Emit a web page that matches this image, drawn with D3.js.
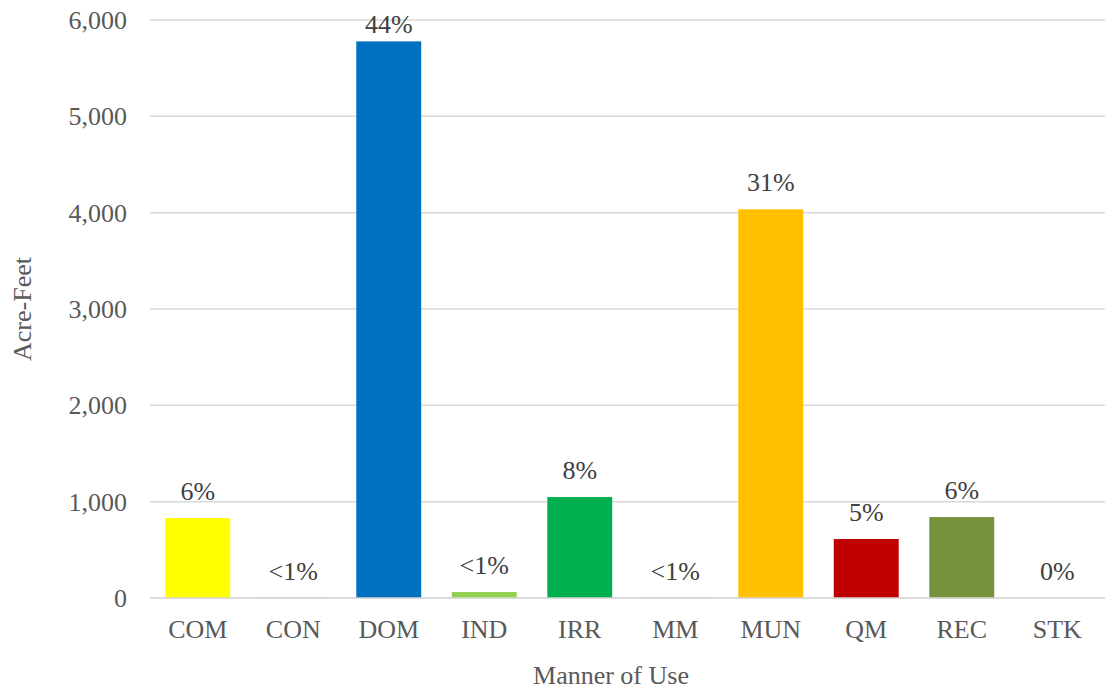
<!DOCTYPE html>
<html lang="en">
<head>
    <meta charset="UTF-8">
    <title>Manner of Use</title>
    <script src="https://d3js.org/d3.v7.min.js"></script>
    <style>
        body {
            margin: 0;
            background: #fff;
        }
        svg text {
            font-family: "Times New Roman", "Liberation Serif", Times, serif;
        }
        .grid line {
            stroke: #d9d9d9;
            stroke-width: 1.5;
        }
    </style>
</head>
<body>
    <div id="chart"></div>

    <script>
        const categories = ["COM", "CON", "DOM", "IND", "IRR", "MM", "MUN", "QM", "REC", "STK"];
        const acreFeet = [830, 5, 5778, 62, 1048, 2, 4035, 612, 840, 0];
        const pctLabels = ["6%", "<1%", "44%", "<1%", "8%", "<1%", "31%", "5%", "6%", "0%"];
        const barColors = ["#ffff00", "#a5a5a5", "#0070c0", "#92d050", "#00b050", "#a5a5a5", "#ffc000", "#c00000", "#77933c", "#a5a5a5"];
        const yTicks = [0, 1000, 2000, 3000, 4000, 5000, 6000];

        const width = 1106, height = 690;
        const margin = { top: 20, right: 1, bottom: 92, left: 150 };
        const fontSize = "26px";

        const svg = d3.select("#chart")
            .append("svg")
            .attr("width", width)
            .attr("height", height);

        const x = d3.scaleBand()
            .domain(categories)
            .range([margin.left, width - margin.right])
            .paddingInner(0.32)
            .paddingOuter(0.16);

        const y = d3.scaleLinear()
            .domain([0, 6000])
            .range([height - margin.bottom, margin.top]);

        // gridlines
        svg.append("g")
            .attr("class", "grid")
            .selectAll("line")
            .data(yTicks)
            .join("line")
            .attr("x1", margin.left)
            .attr("x2", width - margin.right)
            .attr("y1", d => y(d))
            .attr("y2", d => y(d));

        // y tick labels
        svg.append("g")
            .selectAll("text")
            .data(yTicks)
            .join("text")
            .attr("x", margin.left - 23)
            .attr("y", d => y(d))
            .attr("dy", "0.35em")
            .attr("text-anchor", "end")
            .style("font-size", fontSize)
            .style("fill", "#595959")
            .text(d => d3.format(",")(d));

        const data = categories.map((c, i) => ({ cat: c, v: acreFeet[i], label: pctLabels[i], color: barColors[i] }));

        // bars
        svg.append("g")
            .selectAll("rect")
            .data(data)
            .join("rect")
            .attr("x", d => x(d.cat))
            .attr("width", x.bandwidth())
            .attr("y", d => y(d.v))
            .attr("height", d => y(0) - y(d.v))
            .attr("fill", d => d.color);

        // zero axis line over bars
        svg.append("line")
            .attr("x1", margin.left)
            .attr("x2", width - margin.right)
            .attr("y1", y(0))
            .attr("y2", y(0))
            .attr("stroke", "#d9d9d9")
            .attr("stroke-width", 1.5);

        // data labels
        svg.append("g")
            .selectAll("text")
            .data(data)
            .join("text")
            .attr("x", d => x(d.cat) + x.bandwidth() / 2)
            .attr("y", d => Math.max(y(d.v) - 18, 33))
            .attr("text-anchor", "middle")
            .style("font-size", fontSize)
            .style("fill", "#404040")
            .text(d => d.label);

        // x tick labels
        svg.append("g")
            .selectAll("text")
            .data(categories)
            .join("text")
            .attr("x", d => x(d) + x.bandwidth() / 2)
            .attr("y", y(0) + 40)
            .attr("text-anchor", "middle")
            .style("font-size", fontSize)
            .style("fill", "#595959")
            .text(d => d);

        // axis titles
        svg.append("text")
            .attr("x", 611)
            .attr("y", 684)
            .attr("text-anchor", "middle")
            .style("font-size", fontSize)
            .style("fill", "#595959")
            .text("Manner of Use");

        svg.append("text")
            .attr("transform", `translate(31, ${y(3000)}) rotate(-90)`)
            .attr("text-anchor", "middle")
            .style("font-size", fontSize)
            .style("fill", "#595959")
            .text("Acre-Feet");
    </script>
</body>
</html>
